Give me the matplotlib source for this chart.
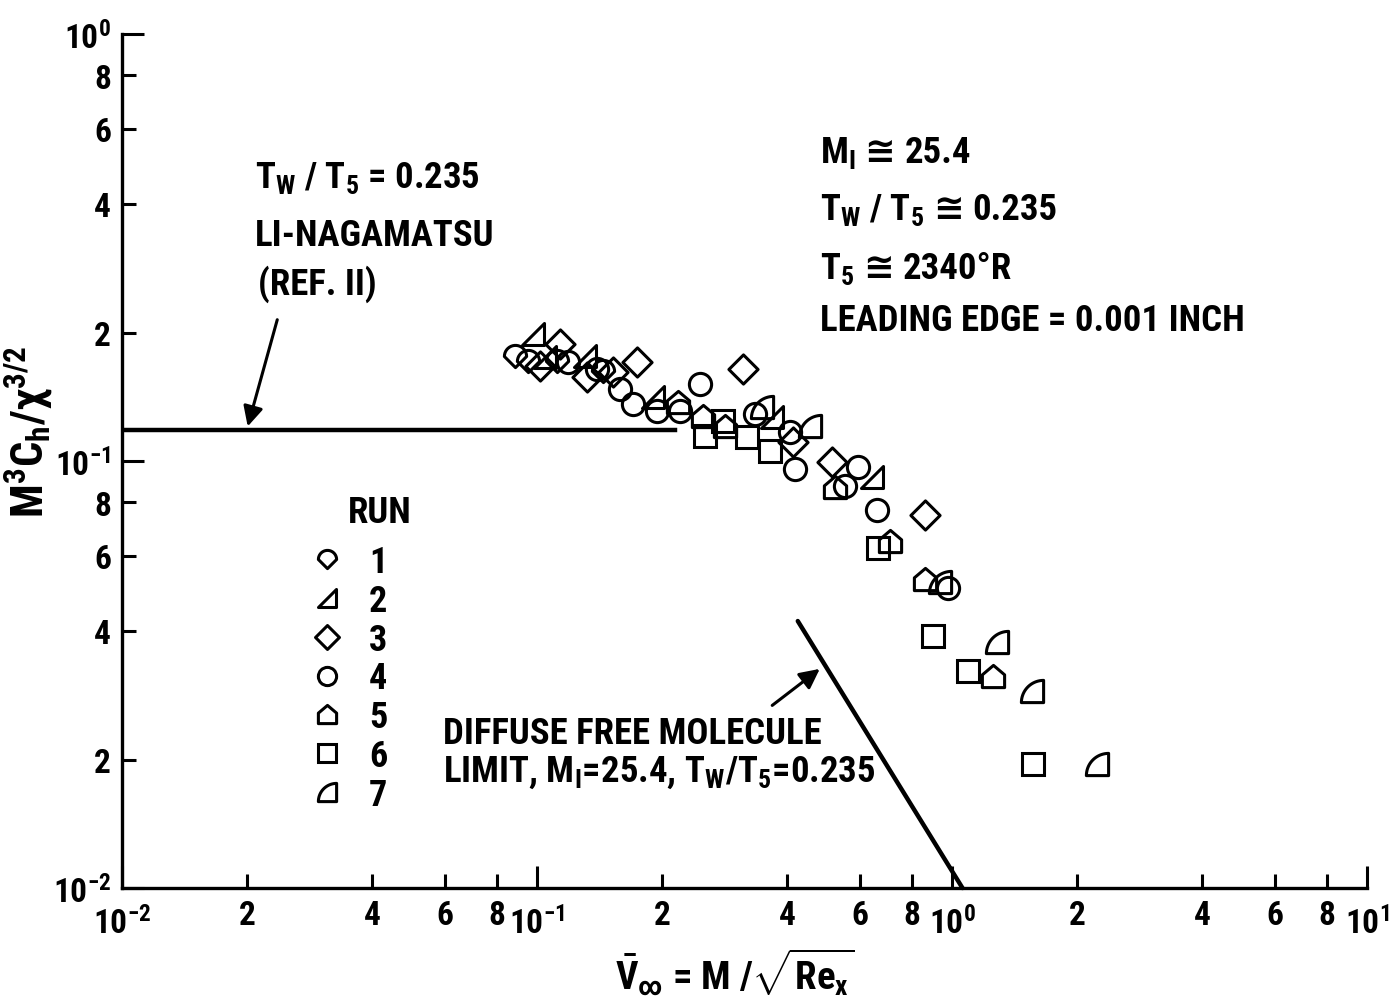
import numpy as np
import matplotlib
matplotlib.use("Agg")
import matplotlib.pyplot as plt
from matplotlib.path import Path
from matplotlib.lines import Line2D
from matplotlib import ticker, font_manager

# heat transfer data, one pair of lists per run
run1_x = [0.0885, 0.0951, 0.1117, 0.1442]
run1_y = [0.176, 0.1715, 0.1715, 0.1625]
run2_x = [0.0978, 0.1045, 0.1305, 0.1904, 0.368, 0.642]
run2_y = [0.198, 0.175, 0.176, 0.141, 0.127, 0.0917]
run3_x = [0.1136, 0.1017, 0.132, 0.1524, 0.1742, 0.3136, 0.414, 0.514, 0.861]
run3_y = [0.188, 0.167, 0.157, 0.162, 0.1705, 0.164, 0.111, 0.0995, 0.0747]
run4_x = [0.1188, 0.1395, 0.1585, 0.1703, 0.1946, 0.2211, 0.247, 0.3352,
          0.407, 0.418, 0.552, 0.594, 0.66, 0.978]
run4_y = [0.1705, 0.1643, 0.1474, 0.136, 0.131, 0.131, 0.1514, 0.1288,
          0.1169, 0.0958, 0.0874, 0.0968, 0.0768, 0.0504]
run5_x = [0.2187, 0.2512, 0.2838, 0.5226, 0.709, 0.861, 1.256]
run5_y = [0.1375, 0.1274, 0.1208, 0.0869, 0.065, 0.0529, 0.0314]
run6_x = [0.254, 0.2807, 0.3206, 0.3643, 0.6635, 0.9, 1.093, 1.567]
run6_y = [0.1144, 0.1241, 0.1138, 0.1055, 0.0626, 0.0389, 0.0322, 0.0195]
run7_x = [0.3485, 0.4548, 0.9357, 1.284, 1.558, 2.236]
run7_y = [0.1338, 0.1208, 0.0521, 0.0377, 0.0289, 0.0195]

run_labels = ["1", "2", "3", "4", "5", "6", "7"]

# theory lines
li_nagamatsu_x = [0.01, 0.215]
li_nagamatsu_y = [0.118, 0.118]
free_molecule_x = [0.425, 1.06]
free_molecule_y = [0.0422, 0.01]


# pick a narrow lettering-like font if one is around
def pick_font(candidates):
    for name in candidates:
        try:
            font_manager.findfont(font_manager.FontProperties(family=name),
                                  fallback_to_default=False)
            return name
        except ValueError:
            pass
    return "DejaVu Sans"


FONT = pick_font(["Roboto Condensed", "Liberation Sans Narrow", "Archivo Narrow",
                  "PT Sans Narrow", "Barlow Semi Condensed", "Liberation Sans"])
plt.rcParams["font.family"] = [FONT, "DejaVu Sans"]
plt.rcParams["font.weight"] = "bold"
plt.rcParams["mathtext.fontset"] = "custom"
for key in ["rm", "it", "bf", "sf"]:
    plt.rcParams["mathtext." + key] = FONT + ":bold"


# marker shapes used in the old report
def arc(cx, cy, r, a0, a1, n=20):
    t = np.radians(np.linspace(a0, a1, n))
    return list(zip(cx + r * np.cos(t), cy + r * np.sin(t)))


def closed(verts):
    verts = list(verts) + [verts[0]]
    codes = [Path.MOVETO] + [Path.LINETO] * (len(verts) - 2) + [Path.CLOSEPOLY]
    return Path(verts, codes)


shield = closed(arc(0, 0, 1, 0, 180) + [(0, -1)])
right_tri = closed([(-1, -1), (1, -1), (1, 1)])
diamond = closed([(0, 1), (1, 0), (0, -1), (-1, 0)])
house = closed([(-1, -1), (1, -1), (1, 0.15), (0, 1), (-1, 0.15)])
quarter = closed([(-1, -1), (1, -1)] + arc(1, -1, 2, 90, 180))

runs = [
    (run1_x, run1_y, shield, 16),
    (run2_x, run2_y, right_tri, 16),
    (run3_x, run3_y, diamond, 21),
    (run4_x, run4_y, "o", 16),
    (run5_x, run5_y, house, 16),
    (run6_x, run6_y, "s", 16),
    (run7_x, run7_y, quarter, 16),
]

fig = plt.figure(figsize=(13.98, 10.04), dpi=100)
ax = fig.add_axes([0.0873, 0.1145, 0.8905, 0.8506])

ax.plot(li_nagamatsu_x, li_nagamatsu_y, color="black", lw=3.2, zorder=2)
ax.plot(free_molecule_x, free_molecule_y, color="black", lw=3.2,
        solid_capstyle="round", zorder=2, clip_on=False)

handles = []
for (x, y, m, ms) in runs:
    ax.plot(x, y, linestyle="none", marker=m, markersize=ms, mfc="none",
            mec="black", mew=2.2, zorder=3)
    handles.append(Line2D([], [], linestyle="none", marker=m,
                          markersize=ms * 0.82, mfc="none", mec="black", mew=2.2))

ax.set_xscale("log")
ax.set_yscale("log")
ax.set_xlim(0.01, 10)
ax.set_ylim(0.01, 1)

for s in ["top", "right"]:
    ax.spines[s].set_visible(False)
for s in ["left", "bottom"]:
    ax.spines[s].set_linewidth(2.4)

minor_fmt = ticker.FuncFormatter(
    lambda v, p: "%d" % round(v / 10 ** np.floor(np.log10(v) + 1e-9)))
for axis in (ax.xaxis, ax.yaxis):
    axis.set_major_locator(ticker.LogLocator(base=10, numticks=10))
    axis.set_minor_locator(ticker.LogLocator(base=10, subs=(2, 4, 6, 8), numticks=10))
    axis.set_major_formatter(ticker.LogFormatterMathtext())
    axis.set_minor_formatter(minor_fmt)

ax.tick_params(which="major", direction="in", length=16, width=2.2,
               labelsize=24, pad=8)
ax.tick_params(which="minor", direction="in", length=10, width=2.2,
               labelsize=24, pad=8)
ax.tick_params(axis="x", which="major", pad=13)

# annotation texts
SIZE = 26.5
txt = dict(transform=ax.transAxes, fontsize=SIZE, va="center", ha="left")
ax.text(0.1068, 0.8326, r"T$_W$ / T$_5$ = 0.235", **txt)
ax.text(0.1068, 0.7646, "LI-NAGAMATSU", **txt)
ax.text(0.109, 0.7084, "(REF. II)", **txt)
ax.text(0.5606, 0.6651, "LEADING EDGE = 0.001 INCH", **txt)
ax.text(0.2578, 0.1815, "DIFFUSE FREE MOLECULE", **txt)
ax.text(0.2578, 0.1358, r"LIMIT, M$_I$=25.4, T$_W$/T$_5$=0.235", **txt)
ax.text(0.1815, 0.4403, "RUN", **txt)


# lines holding the "approximately equal" sign, which the narrow font lacks
def chain_text(x, y, pieces, gap=9):
    renderer = fig.canvas.get_renderer()
    dx = 0
    for s, fam in pieces:
        kw = {"family": fam} if fam else {}
        t = ax.annotate(s, xy=(x, y), xycoords="axes fraction", xytext=(dx, 0),
                        textcoords="offset pixels", ha="left", va="baseline",
                        fontsize=SIZE, **kw)
        dx += t.get_window_extent(renderer).width + gap


chain_text(0.5606, 0.8501, [("M$_I$", None), ("≅", "DejaVu Sans"), ("25.4", None)])
chain_text(0.5606, 0.7840, [("T$_W$ / T$_5$", None), ("≅", "DejaVu Sans"),
                            ("0.235", None)])
chain_text(0.5606, 0.7143, [("T$_5$", None), ("≅", "DejaVu Sans"), ("2340°R", None)])

arrow = dict(arrowstyle="-|>", color="black", lw=2.2, mutation_scale=30)
ax.annotate("", xy=(0.0200, 0.1188), xytext=(0.02376, 0.2174), arrowprops=arrow)
ax.annotate("", xy=(0.4861, 0.0329), xytext=(0.3643, 0.02653), arrowprops=arrow)

leg = ax.legend(handles, run_labels, loc="upper left",
                bbox_to_anchor=(0.136, 0.424), frameon=False, fontsize=26,
                labelspacing=0.077, handletextpad=0.65,
                handlelength=1.0, borderpad=0)

fig.text(29 / 1398, 1 - 432 / 1004, r"M$^3$C$_h$/χ$^{3/2}$", rotation=90,
         fontsize=32, ha="center", va="center")
fig.text(735 / 1398, 1 - 972 / 1004, r"$\bar{V}_{\infty}$ = M /$\sqrt{Re_x}$",
         fontsize=28, ha="center", va="center")

fig.savefig("out.png", dpi=100)
